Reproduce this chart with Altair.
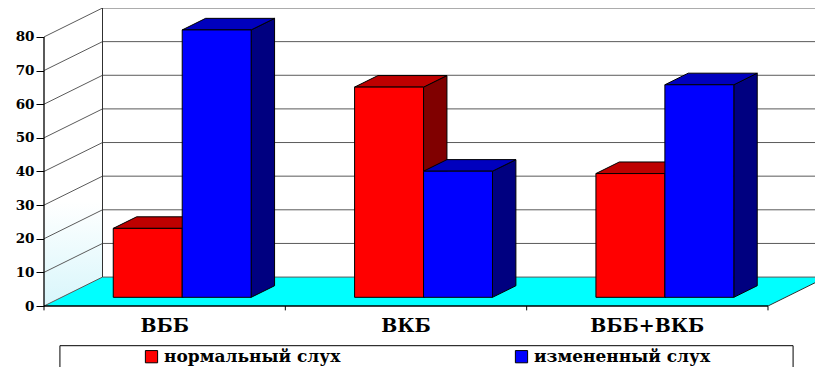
import altair as alt
import pandas as pd

# ---- data -------------------------------------------------------------
categories = ["ВББ", "ВКБ", "ВББ+ВКБ"]
series = ["нормальный слух", "измененный слух"]
normal_hearing = [20.5, 62.5, 36.8]
changed_hearing = [79.5, 37.5, 63.2]
y_ticks = [0, 10, 20, 30, 40, 50, 60, 70, 80]

# ---- styles -----------------------------------------------------------
front_colors = ["#FF0000", "#0000FF"]
top_colors = ["#BE0000", "#0000BE"]
side_colors = ["#800000", "#000080"]
FONT = "DejaVu Serif"

# ---- 3-D box geometry (x in category units, y in value units) ---------
W, H = 771, 298
UNIT_PX = 241.33            # pixels per category on the front edge
X_MAX = W / UNIT_PX
Y_MAX = 88.6
DX = 58.5 / UNIT_PX         # horizontal shift of the full depth
DY = 8.6                    # vertical shift of the full depth
GAP = 1.5                   # gap between groups, in bar widths
BAR = 1 / (2 + GAP)
F0, F1 = 0.3, 0.7           # front / back depth of the bars
TOP = y_ticks[-1]

values = [normal_hearing, changed_hearing]

fronts, tops, sides = [], [], []
for i, cat in enumerate(categories):
    for s, name in enumerate(series):
        v = values[s][i]
        x0 = i + GAP / 2 * BAR + s * BAR
        x1 = x0 + BAR
        fronts.append(dict(cat=cat, series=name, value=v,
                           x=x0 + F0 * DX, x2=x1 + F0 * DX,
                           y=F0 * DY, y2=F0 * DY + v))
        for f in (F0, F1):
            tops.append(dict(key=f"{cat}-{s}", fill=top_colors[s],
                             y=f * DY + v, x=x0 + f * DX, x2=x1 + f * DX))
            sides.append(dict(key=f"{cat}-{s}", fill=side_colors[s],
                              x=x1 + f * DX, y=f * DY, y2=f * DY + v))

fronts = pd.DataFrame(fronts)
tops = pd.DataFrame(tops)
sides = pd.DataFrame(sides)

n = len(categories)
side_grid = pd.DataFrame([dict(x=0, x2=DX, y=v, y2=v + DY) for v in y_ticks])
back_grid = pd.DataFrame([dict(x=DX, x2=n + DX, y=v + DY, y2=v + DY) for v in y_ticks])
edges = pd.DataFrame([
    dict(x=DX, x2=DX, y=DY, y2=TOP + DY),      # back-left corner
    dict(x=n, x2=n + DX, y=0, y2=DY),          # right edge of the floor
])
floor = pd.DataFrame([dict(y=0, x=0, x2=n), dict(y=DY, x=DX, x2=n + DX)])
wall = pd.DataFrame([dict(x=0, y=0, y2=TOP), dict(x=DX, y=DY, y2=TOP + DY)])
axes_lines = pd.DataFrame([dict(x=0, x2=0, y=0, y2=TOP), dict(x=0, x2=n, y=0, y2=0)])
x_ticks = pd.DataFrame([dict(x=k, x2=k, y=0, y2=-1.3) for k in range(n + 1)])
cat_labels = pd.DataFrame([dict(x=i + 0.5, y=-5.8, label=c) for i, c in enumerate(categories)])
legend_box = pd.DataFrame([dict(x=0.066, x2=3.104, y=-11.8, y2=-20)])

Y_AXIS = alt.Axis(values=y_ticks, domain=False, grid=False, title=None,
                  tickSize=8, tickColor="black", tickWidth=1,
                  labelFont=FONT, labelFontSize=13.5, labelFontWeight="bold",
                  labelColor="black", labelPadding=2)
x_scale = alt.Scale(domain=[0, X_MAX], nice=False, zero=False)
y_scale = alt.Scale(domain=[0, Y_MAX], nice=False, zero=False)


def X(f="x"):
    return alt.X(f"{f}:Q", scale=x_scale, axis=None)


def Y(f="y"):
    return alt.Y(f"{f}:Q", scale=y_scale, axis=Y_AXIS)


left_wall = alt.Chart(wall).mark_area(
    orient="vertical", clip=True,
    fill=alt.Gradient(gradient="linear", x1=0, x2=0, y1=0, y2=1,
                      stops=[alt.GradientStop(color="#FFFFFF", offset=0),
                             alt.GradientStop(color="#FFFFFF", offset=0.65),
                             alt.GradientStop(color="#D8F6FB", offset=1)]),
).encode(x=X(), y=Y(), y2="y2:Q")

floor_layer = alt.Chart(floor).mark_area(
    orient="horizontal", fill="#00FFFF", clip=True
).encode(y=Y(), x=X(), x2="x2:Q")

grid_style = dict(color="#5A5A5A", strokeWidth=1, clip=True)
side_grid_layer = alt.Chart(side_grid).mark_rule(**grid_style).encode(
    x=X(), x2="x2:Q", y=Y(), y2="y2:Q")
back_grid_layer = alt.Chart(back_grid).mark_rule(**grid_style).encode(
    x=X(), x2="x2:Q", y=Y(), y2="y2:Q")
edge_layer = alt.Chart(edges).mark_rule(color="#303030", strokeWidth=1, clip=True).encode(
    x=X(), x2="x2:Q", y=Y(), y2="y2:Q")

axis_layer = alt.Chart(axes_lines).mark_rule(color="black", strokeWidth=1.3).encode(
    x=X(), x2="x2:Q", y=Y(), y2="y2:Q")
tick_layer = alt.Chart(x_ticks).mark_rule(color="black", strokeWidth=1).encode(
    x=X(), x2="x2:Q", y=Y(), y2="y2:Q")
label_layer = alt.Chart(cat_labels).mark_text(
    font=FONT, fontSize=19, fontWeight="bold", color="black",
    align="center", baseline="middle"
).encode(x=X(), y=Y(), text="label:N")
box_layer = alt.Chart(legend_box).mark_rect(
    fill="white", stroke="black", strokeWidth=1
).encode(x=X(), x2="x2:Q", y=Y(), y2="y2:Q")

side_layer = alt.Chart(sides).mark_area(
    orient="vertical", stroke="black", strokeWidth=1, strokeJoin="miter"
).encode(x=X(), y=Y(), y2="y2:Q", detail="key:N",
         fill=alt.Fill("fill:N", scale=None))
top_layer = alt.Chart(tops).mark_area(
    orient="horizontal", stroke="black", strokeWidth=1, strokeJoin="miter"
).encode(y=Y(), x=X(), x2="x2:Q", detail="key:N",
         fill=alt.Fill("fill:N", scale=None))
front_layer = alt.Chart(fronts).mark_rect(
    stroke="black", strokeWidth=1
).encode(
    x=X(), x2="x2:Q", y=Y(), y2="y2:Q",
    color=alt.Color("series:N", scale=alt.Scale(domain=series, range=front_colors),
                    legend=alt.Legend(
                        orient="none", legendX=99, legendY=340, direction="horizontal",
                        columns=2, title=None, padding=0, columnPadding=172,
                        symbolType="square", symbolSize=150,
                        symbolStrokeColor="black", symbolStrokeWidth=1,
                        labelFont=FONT, labelFontSize=17, labelFontWeight="bold",
                        labelColor="black", labelOffset=4, labelLimit=0)),
    tooltip=["cat:N", "series:N", "value:Q"],
)

chart = alt.layer(
    left_wall, floor_layer, side_grid_layer, back_grid_layer, edge_layer,
    axis_layer, tick_layer, label_layer, box_layer,
    side_layer, top_layer, front_layer,
).properties(
    width=W, height=H,
    padding={"left": 44, "top": 8, "right": 0, "bottom": 61},
    autosize=alt.AutoSizeParams(type="none"),
).configure_view(stroke=None)

chart.save("out.html", embed_options={"renderer": "svg", "actions": False})
